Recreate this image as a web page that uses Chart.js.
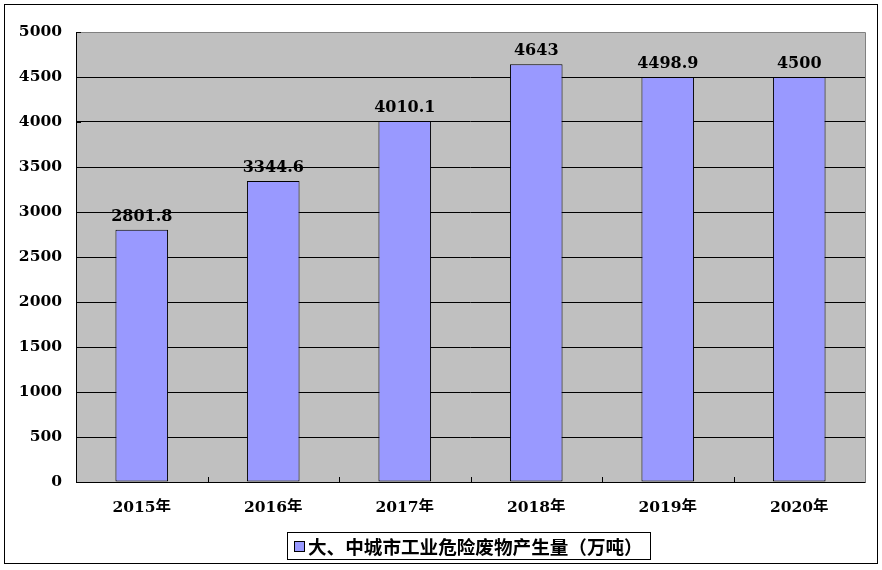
<!DOCTYPE html>
<html><head><meta charset="utf-8">
<script src="https://cdn.jsdelivr.net/npm/chart.js@4"></script>
<style>html,body{margin:0;padding:0;background:#fff}canvas{display:block}</style>
</head><body>
<canvas id="c" width="882" height="570"></canvas>
<script>
const categories = ["2015年","2016年","2017年","2018年","2019年","2020年"];
const values = [2801.8, 3344.6, 4010.1, 4643, 4498.9, 4500];
const valueLabels = ["2801.8","3344.6","4010.1","4643","4498.9","4500"];
const seriesName = "大、中城市工业危险废物产生量（万吨）";
const yMin = 0, yMax = 5000, yStep = 500;

const FONT = "'DejaVu Serif', 'Noto Sans CJK SC', serif";

const framePlugin = {
  id: 'frame',
  beforeDraw(chart) {
    const {ctx, chartArea: a} = chart;
    ctx.save();
    ctx.fillStyle = '#fff';
    ctx.fillRect(0,0,chart.width,chart.height);
    ctx.fillStyle = '#C0C0C0';
    ctx.fillRect(a.left, a.top, a.right-a.left, a.bottom-a.top);
    ctx.restore();
  },
  afterDatasetsDraw(chart) {
    const {ctx, chartArea: a} = chart;
    ctx.save();
    ctx.strokeStyle = '#808080'; ctx.lineWidth = 1;
    ctx.beginPath();
    ctx.moveTo(Math.round(a.left)+0.5, Math.round(a.top)+0.5);
    ctx.lineTo(Math.round(a.right)+0.5, Math.round(a.top)+0.5);
    ctx.lineTo(Math.round(a.right)+0.5, Math.round(a.bottom)+0.5);
    ctx.stroke();
    ctx.strokeStyle = '#000';
    ctx.beginPath();
    ctx.moveTo(Math.round(a.left)+0.5, Math.round(a.top)+0.5);
    ctx.lineTo(Math.round(a.left)+0.5, Math.round(a.bottom)+0.5);
    ctx.lineTo(Math.round(a.right)+0.5, Math.round(a.bottom)+0.5);
    ctx.stroke();
    const xs = chart.scales.x;
    const n = categories.length;
    ctx.beginPath();
    for (let i=1;i<n;i++){
      const x = Math.round((xs.getPixelForValue(i-1)+xs.getPixelForValue(i))/2)+0.5;
      ctx.moveTo(x, Math.round(a.bottom)); ctx.lineTo(x, Math.round(a.bottom)-5);
    }
    const ys = chart.scales.y;
    for (let v=yMin; v<=yMax; v+=yStep){
      const y = Math.round(ys.getPixelForValue(v))+0.5;
      ctx.moveTo(Math.round(a.left), y); ctx.lineTo(Math.round(a.left)+5, y);
    }
    ctx.stroke();
    const meta = chart.getDatasetMeta(0);
    ctx.fillStyle = '#000';
    ctx.font = "bold 16px " + FONT;
    ctx.textAlign = 'center'; ctx.textBaseline = 'bottom';
    meta.data.forEach((bar, i) => {
      ctx.fillText(valueLabels[i], bar.x, bar.y - 5);
    });
    ctx.restore();
  },
  afterDraw(chart) {
    const {ctx} = chart;
    ctx.save();
    ctx.strokeStyle = '#000'; ctx.lineWidth = 1;
    ctx.strokeRect(4.5, 4.5, 873, 559);
    ctx.strokeRect(287.5, 532.5, 363, 27);
    ctx.fillStyle = '#9999FF';
    ctx.fillRect(294.5, 541.5, 10, 10);
    ctx.strokeRect(294.5, 541.5, 10, 10);
    ctx.fillStyle = '#000';
    ctx.font = "bold 18.6px 'Noto Sans CJK SC', sans-serif";
    ctx.textAlign = 'left'; ctx.textBaseline = 'middle';
    ctx.fillText(chart.data.datasets[0].label, 308, 547);
    ctx.restore();
  }
};

new Chart(document.getElementById('c'), {
  type: 'bar',
  data: {
    labels: categories,
    datasets: [{
      label: seriesName,
      data: values,
      backgroundColor: '#9999FF',
      borderColor: '#000',
      borderWidth: 1,
      borderSkipped: false,
      barPercentage: 0.4,
      categoryPercentage: 1.0
    }]
  },
  options: {
    responsive: false,
    animation: false,
    devicePixelRatio: 1,
    layout: { padding: { left: 0, right: 17, top: 32, bottom: 58 } },
    plugins: {
      tooltip: { enabled: false },
      legend: { display: false }
    },
    scales: {
      x: {
        grid: { display: false, drawTicks: false },
        border: { display: false },
        ticks: { color: '#000', font: { family: FONT, size: 15.5, weight: 'bold' }, padding: 17, maxRotation: 0 },
        afterFit(s) { s.height = 30; }
      },
      y: {
        min: yMin, max: yMax,
        grid: { color: '#000', drawTicks: false, lineWidth: 1 },
        border: { display: false },
        ticks: { stepSize: yStep, color: '#000', font: { family: FONT, size: 15.5, weight: 'bold' }, padding: 14,
                 callback: v => String(v) },
        afterFit(s) { s.width = 76; }
      }
    }
  },
  plugins: [framePlugin]
});
</script>
</body></html>
